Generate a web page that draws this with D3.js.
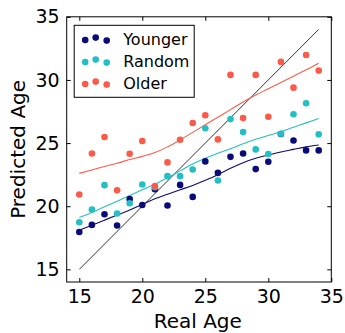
<!DOCTYPE html>
<html>
<head>
<meta charset="utf-8">
<script src="https://cdn.jsdelivr.net/npm/d3@7"></script>
<style>
  body { margin: 0; background: #fff; }
  svg { display: block; font-family: "DejaVu Sans", sans-serif; }
</style>
</head>
<body>
<div id="chart"></div>
<script>
// real ages on the x axis
var ages = [15, 16, 17, 18, 19, 20, 21, 22, 23, 24, 25, 26, 27, 28, 29, 30, 31, 32, 33, 34];

// predicted ages (scatter)
var younger = [17.96, 18.52, 19.37, 18.47, 20.56, 20.1, 21.35, 20.06, 21.69, 20.74,
               23.55, 22.64, 23.91, 24.18, 22.94, 23.52, 25.72, 25.21, 24.42, 24.42];
var random  = [18.73, 19.74, 21.67, 19.42, 20.24, 21.72, 21.5, 22.38, 22.38, 22.91,
               26.17, 22.04, 26.9, 25.87, 24.5, 24.13, 25.74, 27.28, 28.15, 25.69];
var older   = [20.93, 24.18, 25.48, 21.27, 24.15, 25.16, 21.6, 23.47, 25.26, 26.59,
               27.2, 25.29, 30.4, 26.98, 30.4, 27.09, 31.43, 29.39, 31.98, 30.74];

// smoothed trend lines
var youngerFit = [18.1, 18.5, 18.9, 19.3, 19.7, 20.15, 20.6, 20.95, 21.3, 21.65,
                  22.05, 22.5, 23.0, 23.45, 23.8, 24.05, 24.3, 24.5, 24.7, 24.85];
var randomFit  = [19.1, 19.5, 19.95, 20.4, 20.85, 21.3, 21.75, 22.25, 22.8, 23.35,
                  23.8, 24.2, 24.55, 24.95, 25.3, 25.6, 25.9, 26.25, 26.6, 26.95];
var olderFit   = [22.6, 22.87, 23.15, 23.4, 23.7, 23.95, 24.25, 24.7, 25.25, 25.85,
                  26.45, 27.05, 27.65, 28.25, 28.8, 29.3, 29.8, 30.3, 30.8, 31.33];

var ticks = [15, 20, 25, 30, 35];
var labels = ['Younger', 'Random', 'Older'];

var width = 345, height = 333;
var margin = {top: 16.8, right: 13.7, bottom: 51, left: 66.7};
var w = width - margin.left - margin.right;
var h = height - margin.top - margin.bottom;

var colors = ['#0a0a78', '#22c0c4', '#fc5a49'];

var svg = d3.select('#chart').append('svg')
    .attr('width', width)
    .attr('height', height);

var g = svg.append('g')
    .attr('transform', 'translate(' + margin.left + ',' + margin.top + ')');

var x = d3.scaleLinear().domain([14, 35]).range([0, w]);
var y = d3.scaleLinear().domain([14, 35]).range([h, 0]);

// clip so nothing leaks over the frame
g.append('clipPath').attr('id', 'clip')
  .append('rect').attr('width', w).attr('height', h);

var plot = g.append('g').attr('clip-path', 'url(#clip)');

// identity line
plot.append('line')
    .attr('x1', x(15)).attr('y1', y(15))
    .attr('x2', x(34)).attr('y2', y(34))
    .attr('stroke', '#333')
    .attr('stroke-width', 1);

var series = [younger, random, older];
var fits = [youngerFit, randomFit, olderFit];

var line = d3.line()
    .x(function(d, i) { return x(ages[i]); })
    .y(function(d) { return y(d); })
    .curve(d3.curveMonotoneX);

fits.forEach(function(f, k) {
    plot.append('path')
        .datum(f)
        .attr('d', line)
        .attr('fill', 'none')
        .attr('stroke', colors[k])
        .attr('stroke-width', 1.1);
});

series.forEach(function(s, k) {
    plot.append('g').selectAll('circle')
        .data(s)
        .enter().append('circle')
        .attr('cx', function(d, i) { return x(ages[i]); })
        .attr('cy', function(d) { return y(d); })
        .attr('r', 3.3)
        .attr('fill', colors[k]);
});

// axes with inward ticks on all four sides
var fontSize = 19;
var bottomAxis = g.append('g')
    .attr('transform', 'translate(0,' + h + ')')
    .call(d3.axisBottom(x).tickValues(ticks).tickSize(-4).tickPadding(8).tickSizeOuter(0));
var leftAxis = g.append('g')
    .call(d3.axisLeft(y).tickValues(ticks).tickSize(-4).tickPadding(7).tickSizeOuter(0));
g.append('g')
    .attr('transform', 'translate(0,0)')
    .call(d3.axisTop(x).tickValues(ticks).tickSize(-4).tickFormat('').tickSizeOuter(0));
g.append('g')
    .attr('transform', 'translate(' + w + ',0)')
    .call(d3.axisRight(y).tickValues(ticks).tickSize(-4).tickFormat('').tickSizeOuter(0));

g.selectAll('.domain').remove();
g.selectAll('.tick line').attr('stroke', '#000');
g.selectAll('.tick text')
    .attr('fill', '#000')
    .style('font-size', fontSize + 'px')
    .style('font-family', '"DejaVu Sans", sans-serif');

g.append('rect')
    .attr('width', w).attr('height', h)
    .attr('fill', 'none')
    .attr('stroke', '#000')
    .attr('stroke-width', 1);

// axis titles
svg.append('text')
    .attr('x', margin.left + x(24.4))
    .attr('y', 328)
    .attr('text-anchor', 'middle')
    .style('font-size', '20px')
    .text('Real Age');

svg.append('text')
    .attr('transform', 'translate(25,' + (margin.top + h / 2) + ') rotate(-90)')
    .attr('text-anchor', 'middle')
    .style('font-size', '20px')
    .text('Predicted Age');

// legend
var legend = g.append('g').attr('transform', 'translate(7.5,8.5)');
legend.append('rect')
    .attr('width', 120).attr('height', 72)
    .attr('fill', '#fff')
    .attr('stroke', '#000')
    .attr('stroke-width', 1);

var dotOffsets = [[11, 1.2], [21.5, -1.2], [32.5, 1.8]];
labels.forEach(function(lbl, k) {
    var row = legend.append('g').attr('transform', 'translate(0,' + (13.5 + k * 22) + ')');
    dotOffsets.forEach(function(o) {
        row.append('circle')
            .attr('cx', o[0]).attr('cy', o[1])
            .attr('r', 3.3)
            .attr('fill', colors[k]);
    });
    row.append('text')
        .attr('x', 49)
        .attr('y', 0)
        .attr('dy', '0.36em')
        .style('font-size', '16px')
        .text(lbl);
});
</script>
</body>
</html>
